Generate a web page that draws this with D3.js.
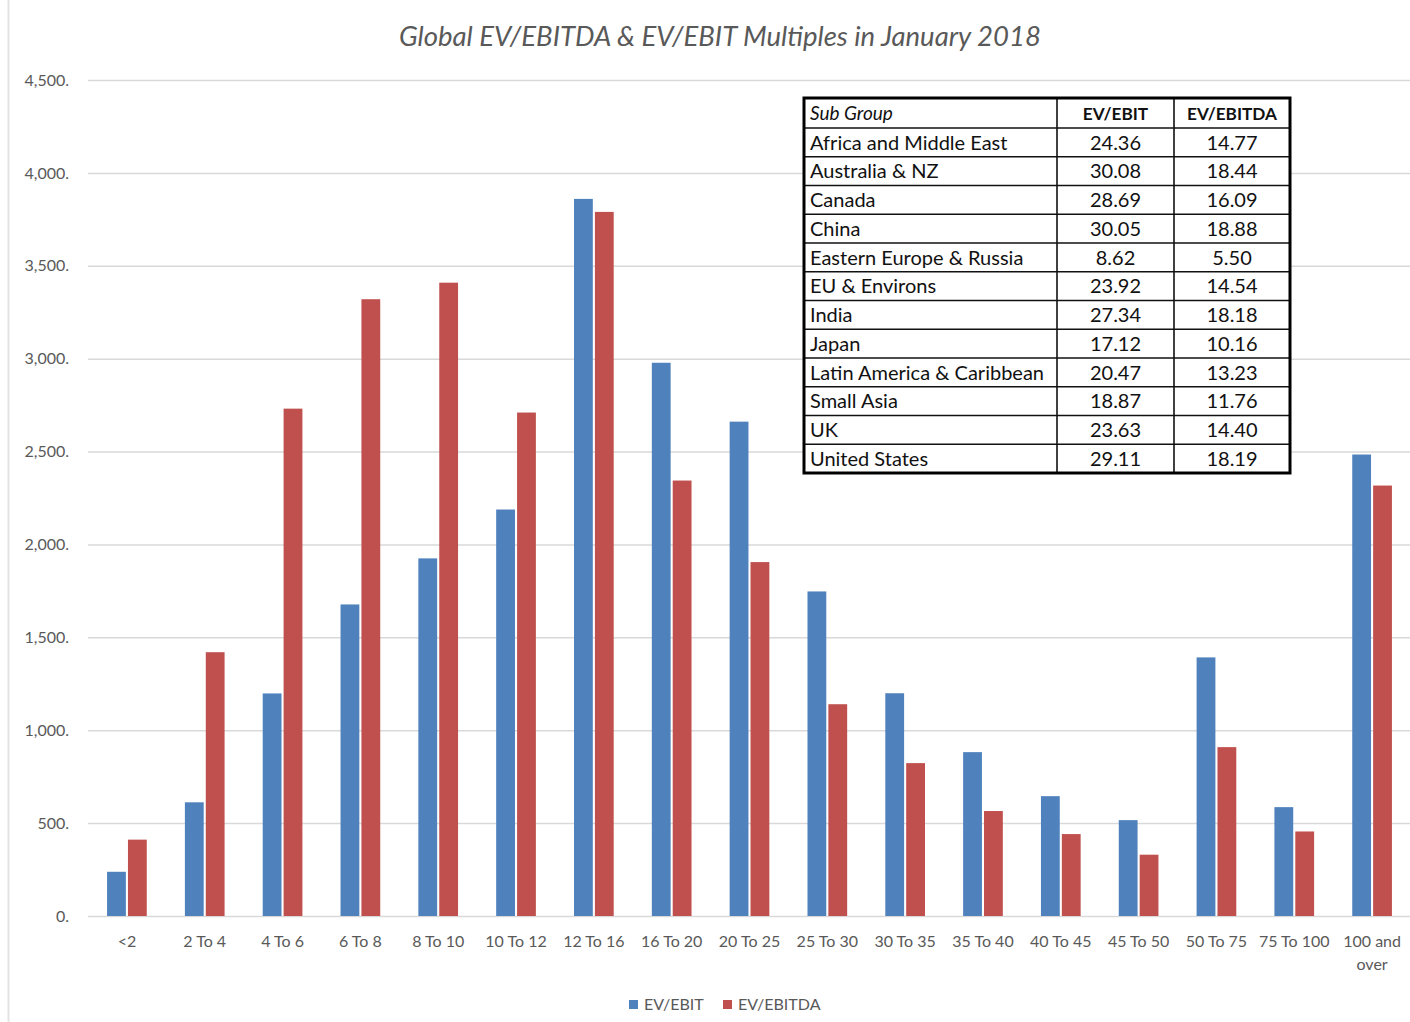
<!DOCTYPE html>
<html>
<head>
<meta charset="utf-8">
<script src="https://cdn.jsdelivr.net/npm/d3@7"></script>
<style>
  html, body { margin: 0; padding: 0; background: #ffffff; }
  svg { display: block; }
</style>
</head>
<body>
<svg id="chart" width="1410" height="1022"></svg>
<script>
// ---- data ----
const categories = ["<2", "2 To 4", "4 To 6", "6 To 8", "8 To 10", "10 To 12", "12 To 16", "16 To 20", "20 To 25", "25 To 30", "30 To 35", "35 To 40", "40 To 45", "45 To 50", "50 To 75", "75 To 100", "100 and over"];
const seriesNames = ["EV/EBIT", "EV/EBITDA"];
const evEbitCounts   = [238, 612, 1198, 1677, 1925, 2188, 3860, 2978, 2661, 1747, 1199, 882, 645, 516, 1392, 586, 2484];
const evEbitdaCounts = [411, 1420, 2731, 3320, 3409, 2710, 3790, 2344, 1905, 1140, 823, 565, 441, 330, 909, 455, 2317];
const yTicks = [0, 500, 1000, 1500, 2000, 2500, 3000, 3500, 4000, 4500];

const tableHeader = ["Sub Group", "EV/EBIT", "EV/EBITDA"];
const subGroups = ["Africa and Middle East", "Australia & NZ", "Canada", "China", "Eastern Europe & Russia", "EU & Environs", "India", "Japan", "Latin America & Caribbean", "Small Asia", "UK", "United States"];
const tableEvEbit   = ["24.36", "30.08", "28.69", "30.05", "8.62", "23.92", "27.34", "17.12", "20.47", "18.87", "23.63", "29.11"];
const tableEvEbitda = ["14.77", "18.44", "16.09", "18.88", "5.50", "14.54", "18.18", "10.16", "13.23", "11.76", "14.40", "18.19"];

const colors = ["#4f81bd", "#c0504d"];
const textColor = "#595959";
const font = "Lato, 'Open Sans', sans-serif";

const svg = d3.select("#chart");

// left page border
svg.append("line").attr("x1", 8.5).attr("x2", 8.5).attr("y1", 0).attr("y2", 1022)
  .attr("stroke", "#e3e3e3").attr("stroke-width", 2);

const plot = { left: 88, right: 1411, top: 80, bottom: 916 };

const y = d3.scaleLinear().domain([0, 4500]).range([plot.bottom, plot.top]);
const x0 = d3.scaleBand().domain(categories).range([plot.left, plot.right])
  .paddingInner(0.49).paddingOuter(0.245);
const x1 = d3.scaleBand().domain(seriesNames).range([0, x0.bandwidth()]).paddingInner(0.1);

// title
svg.append("text")
  .attr("x", 720).attr("y", 46)
  .attr("text-anchor", "middle")
  .attr("font-family", font).attr("font-style", "italic")
  .attr("font-size", 27.5).attr("fill", textColor)
  .text("Global EV/EBITDA & EV/EBIT Multiples in January 2018");

// y axis + gridlines
const yAxis = d3.axisLeft(y).tickValues(yTicks)
  .tickFormat(d => d3.format(",")(d) + ".")
  .tickSize(-(plot.right - plot.left)).tickPadding(19);
const gy = svg.append("g").attr("transform", `translate(${plot.left},0)`).call(yAxis);
gy.select(".domain").remove();
gy.selectAll(".tick line").attr("stroke", "#d9d9d9").attr("stroke-width", 1.5);
gy.selectAll(".tick text").attr("font-family", font).attr("font-size", 16).attr("fill", textColor);

// bars
const rows = categories.map((c, i) => ({ cat: c, vals: [evEbitCounts[i], evEbitdaCounts[i]] }));
const groups = svg.append("g").selectAll("g").data(rows).join("g")
  .attr("transform", d => `translate(${x0(d.cat)},0)`);
groups.selectAll("rect").data(d => d.vals.map((v, k) => ({ key: seriesNames[k], v, k })))
  .join("rect")
  .attr("x", d => x1(d.key))
  .attr("width", x1.bandwidth())
  .attr("y", d => y(d.v))
  .attr("height", d => y(0) - y(d.v))
  .attr("fill", d => colors[d.k]);

// x axis
const xAxis = d3.axisBottom(x0).tickSize(0).tickPadding(0);
const gx = svg.append("g").attr("transform", `translate(0,${plot.bottom})`).call(xAxis);
gx.select(".domain").remove();
gx.selectAll(".tick text").attr("font-family", font).attr("font-size", 16).attr("fill", textColor)
  .each(function(d) {
    const t = d3.select(this);
    t.text(null).attr("y", 0).attr("dy", null);
    const parts = d === "100 and over" ? ["100 and", "over"] : [d];
    parts.forEach((p, i) => {
      t.append("tspan").attr("x", 0).attr("y", 31 + i * 23).text(p);
    });
  });

// legend
const legend = svg.append("g");
const legendItems = [{ name: seriesNames[0], x: 629 }, { name: seriesNames[1], x: 723 }];
legendItems.forEach((it, i) => {
  legend.append("rect").attr("x", it.x).attr("y", 1000).attr("width", 9).attr("height", 9).attr("fill", colors[i]);
  legend.append("text").attr("x", it.x + 15).attr("y", 1010)
    .attr("font-family", font).attr("font-size", 16).attr("fill", textColor).text(it.name);
});

// table
const tbl = { x: 804, y: 98, colX: [804, 1057, 1174, 1290], headerH: 30, rowH: 28.75 };
const tg = svg.append("g");
const tblBottom = tbl.y + tbl.headerH + subGroups.length * tbl.rowH;
tg.append("rect").attr("x", tbl.colX[0]).attr("y", tbl.y)
  .attr("width", tbl.colX[3] - tbl.colX[0]).attr("height", tblBottom - tbl.y)
  .attr("fill", "#ffffff");
// inner horizontal lines
for (let i = 0; i < subGroups.length; i++) {
  const yy = tbl.y + tbl.headerH + i * tbl.rowH;
  tg.append("line").attr("x1", tbl.colX[0]).attr("x2", tbl.colX[3]).attr("y1", yy).attr("y2", yy)
    .attr("stroke", "#111").attr("stroke-width", 1.6);
}
[1, 2].forEach(c => {
  tg.append("line").attr("x1", tbl.colX[c]).attr("x2", tbl.colX[c]).attr("y1", tbl.y).attr("y2", tblBottom)
    .attr("stroke", "#111").attr("stroke-width", 1.6);
});
tg.append("rect").attr("x", tbl.colX[0]).attr("y", tbl.y)
  .attr("width", tbl.colX[3] - tbl.colX[0]).attr("height", tblBottom - tbl.y)
  .attr("fill", "none").attr("stroke", "#000").attr("stroke-width", 3);

const cellFont = 20;
const centers = [(tbl.colX[1] + tbl.colX[2]) / 2, (tbl.colX[2] + tbl.colX[3]) / 2];
// header
tg.append("text").attr("x", 810).attr("y", tbl.y + 22)
  .attr("font-family", font).attr("font-style", "italic").attr("font-size", 19).attr("fill", "#111")
  .text(tableHeader[0]);
[1, 2].forEach(c => {
  tg.append("text").attr("x", centers[c - 1]).attr("y", tbl.y + 22).attr("text-anchor", "middle")
    .attr("font-family", font).attr("font-weight", "bold").attr("font-size", 17.2).attr("fill", "#111")
    .text(tableHeader[c]);
});
subGroups.forEach((g, i) => {
  const base = tbl.y + tbl.headerH + i * tbl.rowH + 21.5;
  tg.append("text").attr("x", 810).attr("y", base)
    .attr("font-family", font).attr("font-size", cellFont).attr("fill", "#111").text(g);
  tg.append("text").attr("x", centers[0]).attr("y", base).attr("text-anchor", "middle")
    .attr("font-family", font).attr("font-size", cellFont).attr("fill", "#111").text(tableEvEbit[i]);
  tg.append("text").attr("x", centers[1]).attr("y", base).attr("text-anchor", "middle")
    .attr("font-family", font).attr("font-size", cellFont).attr("fill", "#111").text(tableEvEbitda[i]);
});
</script>
</body>
</html>
